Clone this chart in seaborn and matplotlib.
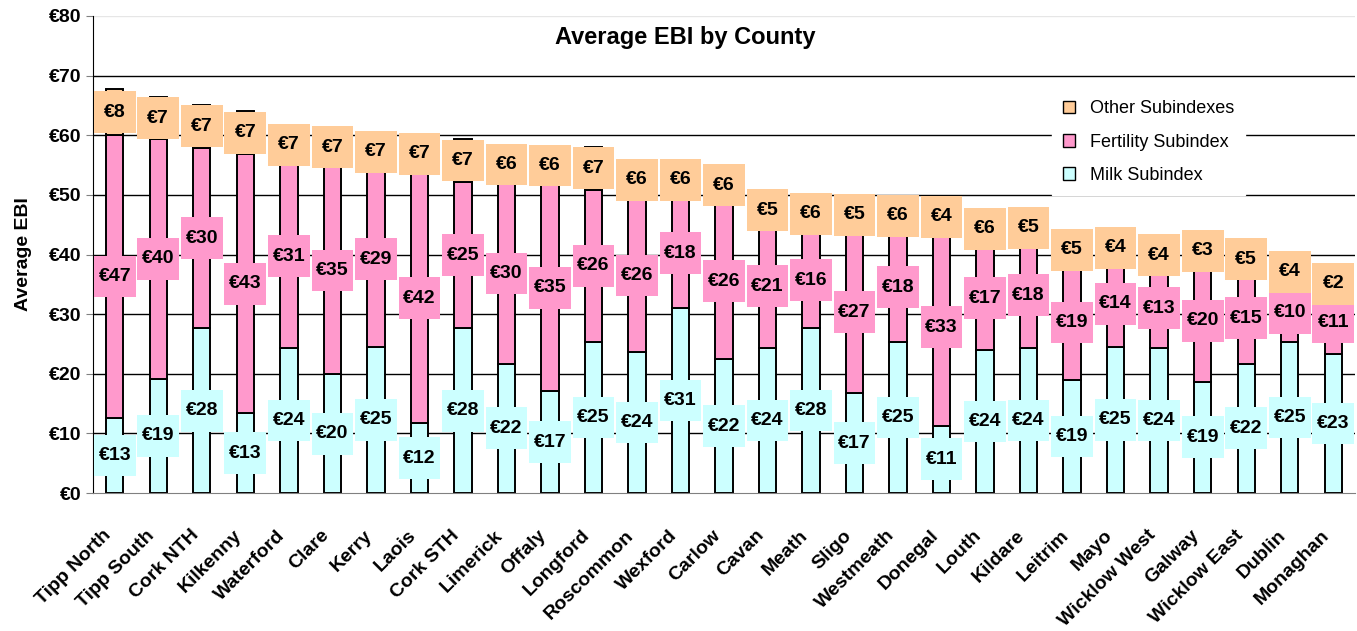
import numpy as np
import matplotlib.pyplot as plt
import seaborn as sns
from matplotlib.patches import Patch

# 数据：各郡平均EBI分项
counties = ["Tipp North", "Tipp South", "Cork NTH", "Kilkenny", "Waterford", "Clare",
            "Kerry", "Laois", "Cork STH", "Limerick", "Offaly", "Longford", "Roscommon",
            "Wexford", "Carlow", "Cavan", "Meath", "Sligo", "Westmeath", "Donegal",
            "Louth", "Kildare", "Leitrim", "Mayo", "Wicklow West", "Galway",
            "Wicklow East", "Dublin", "Monaghan"]
milk = [12.6, 19.2, 27.6, 13.4, 24.3, 19.9, 24.5, 11.7, 27.6, 21.7, 17.1, 25.3, 23.7,
        31.0, 22.4, 24.3, 27.7, 16.7, 25.3, 11.3, 24.0, 24.3, 18.9, 24.5, 24.3, 18.7,
        21.7, 25.3, 23.3]
fert = [47.4, 40.1, 30.3, 43.4, 30.8, 34.8, 29.4, 41.9, 24.6, 30.2, 34.6, 25.6, 25.6,
        18.4, 26.2, 20.8, 16.0, 27.3, 18.4, 33.0, 17.3, 17.8, 19.4, 14.4, 13.4, 20.3,
        15.2, 9.8, 10.6]
other = [7.7, 7.1, 7.2, 7.2, 6.6, 6.6, 6.6, 6.6, 7.1, 6.4, 6.4, 7.2, 6.4, 6.3, 6.1,
         4.7, 6.2, 5.3, 5.6, 4.0, 6.0, 4.8, 5.0, 4.4, 4.4, 3.2, 4.6, 4.0, 2.4]
yticks = list(range(0, 90, 10))
ytick_labels = [f"€{v}" for v in yticks]

c_milk = "#CCFFFF"
c_fert = "#FF99CC"
c_other = "#FFCC99"

sns.set_style("white")
plt.rcParams['font.family'] = ['Liberation Sans', 'DejaVu Sans']
plt.rcParams['text.color'] = 'black'
plt.rcParams['axes.labelcolor'] = 'black'
plt.rcParams['xtick.color'] = 'black'
plt.rcParams['ytick.color'] = 'black'

fig = plt.figure(figsize=(13.57, 6.31), dpi=100)
ax = fig.add_axes([93/1357, 1-493/631, 1262/1357, 477/631])

milk = np.array(milk)
fert = np.array(fert)
other = np.array(other)
layers = [(milk, np.zeros(len(milk)), c_milk),
          (fert, milk, c_fert),
          (other, milk + fert, c_other)]

for vals, bot, col in layers:
    sns.barplot(x=counties, y=vals, bottom=bot, color=col, saturation=1,
                width=0.4, edgecolor="black", linewidth=1.4, ax=ax, zorder=2)

# 标签方框 + 数字
x = np.arange(len(counties))
for vals, bot, col in layers:
    yc = bot + vals / 2
    ax.scatter(x, yc, marker="s", s=900, color=col, edgecolors="none", zorder=3)
    for xi, yi, v in zip(x, yc, vals):
        ax.text(xi, yi, f"€{int(v + 0.5)}", ha="center", va="center",
                fontsize=14, fontweight="bold", zorder=4)

ax.set_ylim(0, 80)
ax.set_xlim(-0.5, len(counties) - 0.5)
for v in yticks[1:-1]:
    ax.axhline(v, color="black", lw=1, zorder=1)
ax.axhline(80, color="#e6e6e6", lw=1, zorder=1)
ax.set_yticks(yticks)
ax.set_yticklabels(ytick_labels, fontsize=14, fontweight="bold")
ax.set_xticks(x)
ax.set_xticklabels(counties, rotation=45, ha="right", va="bottom",
                   rotation_mode="anchor", fontsize=14, fontweight="bold")
ax.set_xticks(np.arange(-0.5, len(counties)), minor=True)
ax.tick_params(axis="x", which="major", length=0, pad=33)
ax.tick_params(axis="x", which="minor", length=5, color="gray", direction="out")
ax.tick_params(axis="y", length=5, direction="out", color="gray", left=True)
for s in ["top", "right"]:
    ax.spines[s].set_visible(False)
ax.spines["left"].set_color("black")
ax.spines["bottom"].set_color("gray")
ax.set_ylabel("Average EBI", fontsize=14, fontweight="bold", labelpad=12)
ax.set_xlabel("")

fig.text(0.505, 0.94, "Average EBI by County", ha="center", va="center",
         fontsize=17, fontweight="bold")

handles = [Patch(facecolor=c_other, edgecolor="black", label="Other Subindexes"),
           Patch(facecolor=c_fert, edgecolor="black", label="Fertility Subindex"),
           Patch(facecolor=c_milk, edgecolor="black", label="Milk Subindex")]
leg = ax.legend(handles=handles, loc="upper right", bbox_to_anchor=(0.92, 0.865),
                frameon=True, fancybox=False, edgecolor="white", framealpha=1,
                fontsize=13, handlelength=0.7, handleheight=0.7, labelspacing=0.9,
                borderpad=0.6)
leg.set_zorder(5)

fig.savefig("out.png", dpi=100)
